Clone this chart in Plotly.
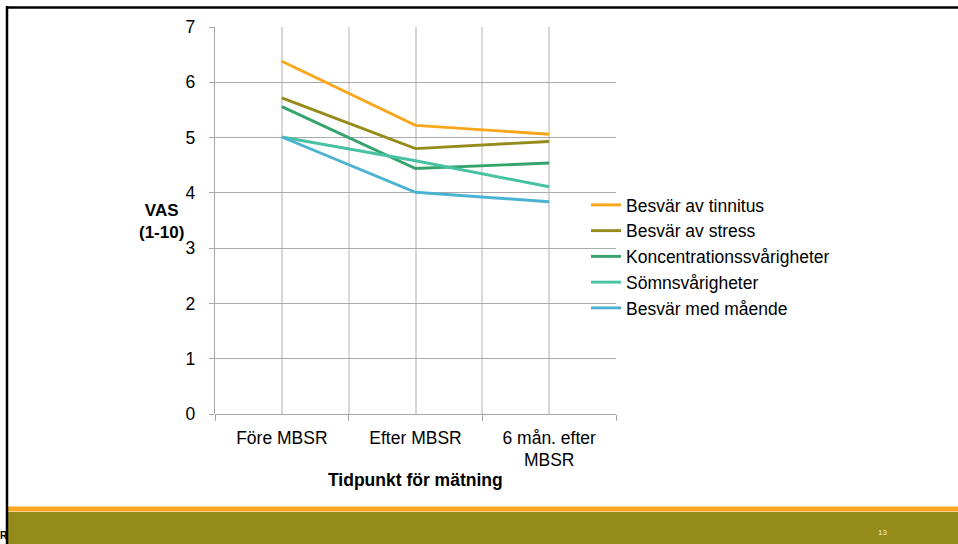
import plotly.graph_objects as go

W, H = 958, 544

categories = ["Före MBSR", "Efter MBSR", "6 mån. efter<br>MBSR"]

series_names = [
    "Besvär av tinnitus",
    "Besvär av stress",
    "Koncentrationssvårigheter",
    "Sömnsvårigheter",
    "Besvär med mående",
]
tinnitus = [6.38, 5.22, 5.06]
stress = [5.72, 4.80, 4.93]
koncentration = [5.56, 4.44, 4.54]
somn = [5.01, 4.58, 4.11]
maende = [5.01, 4.01, 3.84]
series_values = [tinnitus, stress, koncentration, somn, maende]
series_colors = ["#FAA61A", "#958B1B", "#35A36B", "#47C3A3", "#4BB2D2"]

y_ticks = [0, 1, 2, 3, 4, 5, 6, 7]

FONT = "Liberation Sans, Arial, sans-serif"


def px_x(v):
    return v / W


def px_y(v):
    return 1 - v / H


x_idx = list(range(len(categories)))

fig = go.Figure()
for i, (name, vals, col) in enumerate(zip(series_names, series_values, series_colors)):
    fig.add_trace(
        go.Scatter(
            x=x_idx,
            y=vals,
            name=name,
            mode="lines",
            line=dict(color=col, width=2.9),
            legendgroup=f"g{i}",
            hoverinfo="x+y+name",
        )
    )

# slide frame and footer band
shapes = [
    dict(type="rect", xref="paper", yref="paper",
         x0=px_x(8), x1=1.0, y0=px_y(512), y1=0.0,
         fillcolor="#958B1B", line=dict(width=0), layer="below"),
    dict(type="rect", xref="paper", yref="paper",
         x0=px_x(8), x1=1.0, y0=px_y(506.5), y1=px_y(511.5),
         fillcolor="#F9A51F", line=dict(width=0), layer="below"),
    dict(type="line", xref="paper", yref="paper",
         x0=px_x(7), x1=px_x(7), y0=px_y(6), y1=0.0,
         line=dict(color="#000000", width=2.5)),
    dict(type="line", xref="paper", yref="paper",
         x0=px_x(6), x1=1.0, y0=px_y(7.5), y1=px_y(7.5),
         line=dict(color="#000000", width=2.5)),
]

annotations = [
    dict(text="<b>VAS<br>(1-10)</b>", xref="paper", yref="paper",
         x=px_x(161), y=px_y(221), xanchor="center", yanchor="middle",
         showarrow=False, font=dict(family=FONT, size=17, color="#000000")),
    dict(text="<b>Tidpunkt för mätning</b>", xref="paper", yref="paper",
         x=px_x(415), y=px_y(480), xanchor="center", yanchor="middle",
         showarrow=False, font=dict(family=FONT, size=17.5, color="#000000")),
    dict(text="<b>R</b>", xref="paper", yref="paper",
         x=0, y=px_y(535), xanchor="left", yanchor="middle", xshift=-2,
         showarrow=False, font=dict(family=FONT, size=10, color="#000000")),
    dict(text="13", xref="paper", yref="paper",
         x=px_x(882), y=px_y(532), xanchor="center", yanchor="middle",
         showarrow=False, font=dict(family=FONT, size=8, color="#F3EFCF")),
]

fig.update_layout(
    width=W,
    height=H,
    margin=dict(l=0, r=0, t=0, b=0, autoexpand=False),
    paper_bgcolor="#FFFFFF",
    plot_bgcolor="#FFFFFF",
    font=dict(family=FONT, size=17.5, color="#000000"),
    shapes=shapes,
    annotations=annotations,
    legend=dict(
        x=px_x(586),
        y=px_y(187),
        xanchor="left",
        yanchor="top",
        font=dict(family=FONT, size=17.5, color="#000000"),
        bgcolor="rgba(0,0,0,0)",
        tracegroupgap=0,
        itemwidth=30,
    ),
    xaxis=dict(
        domain=[px_x(215), px_x(616)],
        range=[-0.5, 2.5],
        automargin=False,
        tickvals=x_idx,
        ticktext=categories,
        ticks="",
        ticklabelstandoff=11,
        showgrid=True,
        gridcolor="#D6D6D6",
        gridwidth=2,
        showline=False,
        zeroline=False,
        minor=dict(
            tick0=-0.5,
            dtick=1,
            showgrid=True,
            gridcolor="#D9D9D9",
            gridwidth=1.5,
            ticks="outside",
            ticklen=6,
            tickcolor="#A6A6A6",
            tickwidth=1.3,
        ),
        tickfont=dict(family=FONT, size=17.5, color="#000000"),
        fixedrange=True,
    ),
    yaxis=dict(
        domain=[px_y(414), px_y(27)],
        range=[0, 7],
        automargin=False,
        tickvals=y_ticks,
        ticks="outside",
        ticklen=5,
        tickcolor="#A6A6A6",
        tickwidth=1.3,
        ticklabelstandoff=10,
        showgrid=True,
        gridcolor="#AAAAAA",
        gridwidth=1.3,
        showline=True,
        linecolor="#A6A6A6",
        linewidth=1.3,
        zeroline=True,
        zerolinecolor="#A6A6A6",
        zerolinewidth=1.3,
        tickfont=dict(family=FONT, size=17.5, color="#000000"),
        fixedrange=True,
    ),
)

fig.write_html("out.html")
